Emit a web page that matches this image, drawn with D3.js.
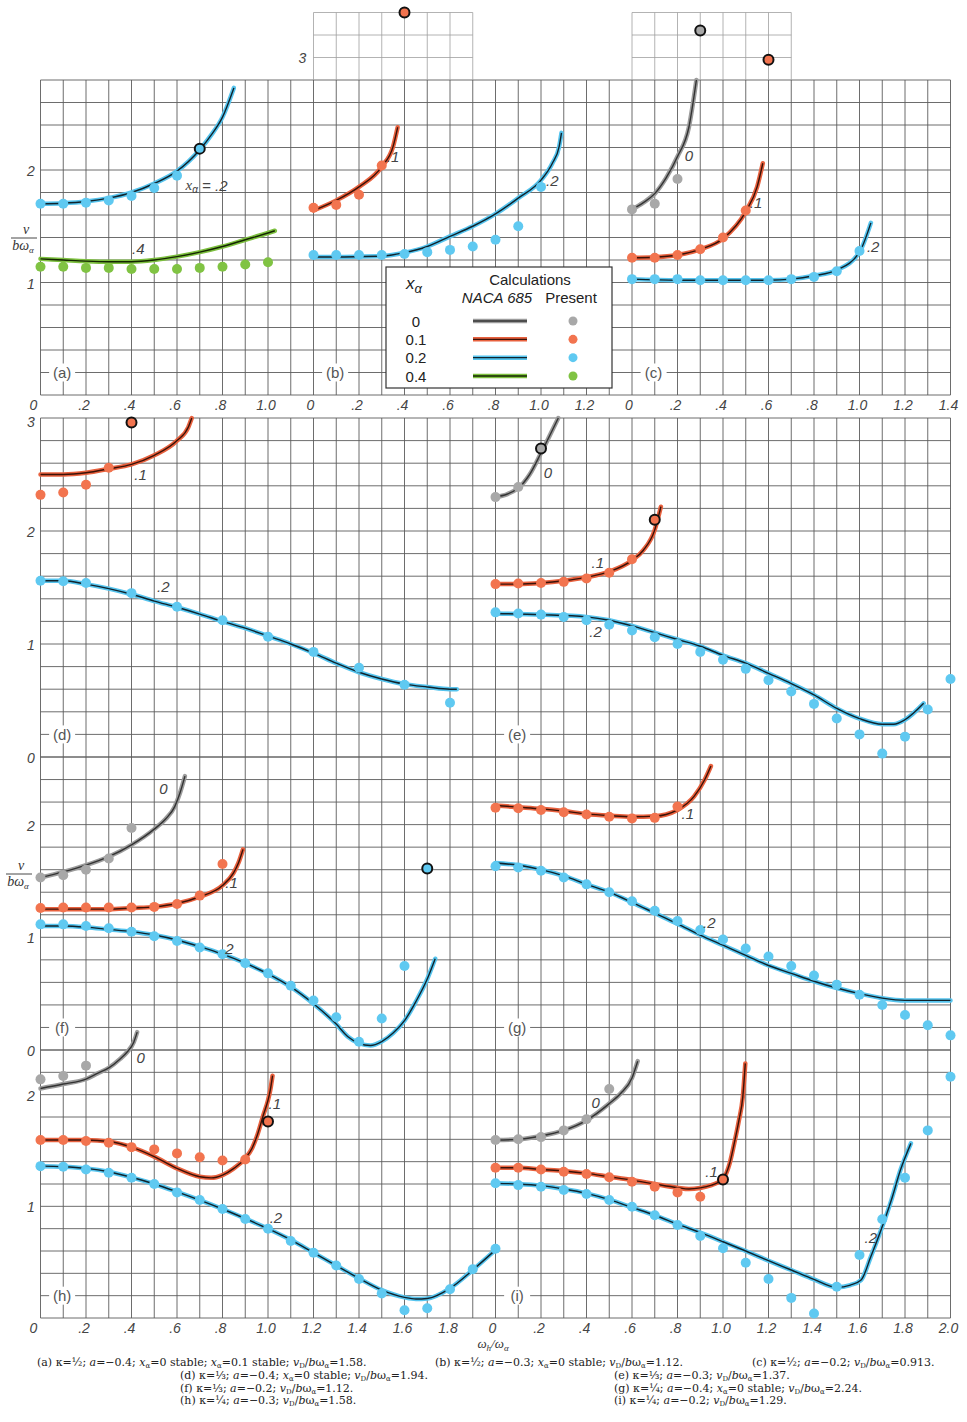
<!DOCTYPE html>
<html><head><meta charset="utf-8">
<script src="https://cdn.jsdelivr.net/npm/d3@7"></script>
<style>body{margin:0;background:#fff}</style>
</head><body><svg id="chart"></svg>
<script>
// ---- data: [omega_h/omega_a, v/(b omega_a)] ----
const A_CURVE_2 = [[0,1.70],[0.1,1.705],[0.2,1.72],[0.3,1.75],[0.4,1.80],[0.5,1.88],[0.6,1.99],[0.7,2.18],[0.75,2.31],[0.8,2.47],[0.85,2.73]];
const A_PTS_2 = [[0,1.70],[0.1,1.70],[0.2,1.71],[0.3,1.73],[0.4,1.77],[0.5,1.84],[0.6,1.95]];
const A_OPEN_2 = [[0.7,2.19]];
const A_CURVE_4 = [[0,1.21],[0.1,1.20],[0.2,1.19],[0.3,1.185],[0.4,1.185],[0.5,1.20],[0.6,1.23],[0.7,1.27],[0.8,1.32],[0.9,1.38],[1.0,1.44],[1.03,1.46]];
const A_PTS_4 = [[0,1.14],[0.1,1.14],[0.2,1.13],[0.3,1.13],[0.4,1.12],[0.5,1.12],[0.6,1.12],[0.7,1.13],[0.8,1.14],[0.9,1.16],[1.0,1.18]];

const B_CURVE_1 = [[0,1.64],[0.1,1.73],[0.2,1.85],[0.3,2.03],[0.35,2.21],[0.37,2.38]];
const B_PTS_1 = [[0,1.665],[0.1,1.69],[0.2,1.78],[0.3,2.04]];
const B_OPEN_1 = [[0.4,3.40]];
const B_CURVE_2 = [[0,1.227],[0.1,1.227],[0.2,1.23],[0.3,1.235],[0.4,1.265],[0.5,1.32],[0.6,1.41],[0.7,1.50],[0.8,1.61],[0.9,1.75],[1.0,1.91],[1.05,2.06],[1.08,2.21],[1.09,2.33]];
const B_PTS_2 = [[0,1.245],[0.1,1.245],[0.2,1.245],[0.3,1.245],[0.4,1.253],[0.5,1.27],[0.6,1.29],[0.7,1.32],[0.8,1.38],[0.9,1.50],[1.0,1.85]];

const C_CURVE_0 = [[0,1.65],[0.05,1.71],[0.1,1.79],[0.15,1.93],[0.2,2.12],[0.25,2.38],[0.283,2.8]];
const C_PTS_0 = [[0,1.65],[0.1,1.70],[0.2,1.92]];
const C_OPEN_0 = [[0.3,3.24]];
const C_CURVE_1 = [[0,1.22],[0.1,1.225],[0.2,1.245],[0.3,1.295],[0.4,1.39],[0.5,1.63],[0.55,1.85],[0.575,2.06]];
const C_PTS_1 = [[0,1.22],[0.1,1.22],[0.2,1.245],[0.3,1.295],[0.4,1.40],[0.5,1.64]];
const C_OPEN_1 = [[0.6,2.98]];
const C_CURVE_2 = [[0,1.03],[0.2,1.02],[0.4,1.02],[0.6,1.02],[0.7,1.03],[0.8,1.06],[0.9,1.11],[1.0,1.27],[1.05,1.53]];
const C_PTS_2 = [[0,1.03],[0.1,1.03],[0.2,1.03],[0.3,1.02],[0.4,1.02],[0.5,1.02],[0.6,1.02],[0.7,1.03],[0.8,1.05],[0.9,1.10],[1.0,1.28]];

const D_CURVE_1 = [[0,2.50],[0.1,2.50],[0.2,2.515],[0.3,2.55],[0.4,2.59],[0.5,2.67],[0.6,2.80],[0.65,2.92],[0.665,3.0]];
const D_PTS_1 = [[0,2.32],[0.1,2.34],[0.2,2.41],[0.3,2.56]];
const D_OPEN_1 = [[0.4,2.96]];
const D_CURVE_2 = [[0,1.56],[0.1,1.56],[0.2,1.53],[0.3,1.49],[0.4,1.44],[0.5,1.38],[0.6,1.325],[0.7,1.265],[0.8,1.20],[0.9,1.14],[1.0,1.07],[1.1,1.00],[1.2,0.92],[1.3,0.83],[1.4,0.75],[1.5,0.69],[1.6,0.645],[1.7,0.62],[1.8,0.60],[1.83,0.60]];
const D_PTS_2 = [[0,1.56],[0.1,1.555],[0.2,1.54],[0.4,1.45],[0.6,1.33],[0.8,1.21],[1.0,1.065],[1.2,0.93],[1.4,0.79],[1.6,0.64],[1.8,0.48]];

const E_CURVE_0 = [[0,2.30],[0.1,2.38],[0.15,2.50],[0.2,2.69],[0.276,3.0]];
const E_PTS_0 = [[0,2.30],[0.1,2.39]];
const E_OPEN_0 = [[0.2,2.73]];
const E_CURVE_1 = [[0,1.53],[0.1,1.53],[0.2,1.54],[0.3,1.56],[0.4,1.59],[0.5,1.64],[0.6,1.74],[0.65,1.83],[0.7,2.01],[0.727,2.215]];
const E_PTS_1 = [[0,1.53],[0.1,1.535],[0.2,1.54],[0.3,1.55],[0.4,1.58],[0.5,1.63],[0.6,1.75]];
const E_OPEN_1 = [[0.7,2.10]];
const E_CURVE_2 = [[0,1.27],[0.2,1.26],[0.4,1.24],[0.5,1.21],[0.6,1.16],[0.7,1.10],[0.8,1.04],[0.9,0.98],[1.0,0.90],[1.1,0.83],[1.2,0.74],[1.3,0.65],[1.4,0.55],[1.5,0.43],[1.6,0.34],[1.7,0.29],[1.75,0.29],[1.8,0.33],[1.882,0.475]];
const E_PTS_2 = [[0,1.28],[0.1,1.27],[0.2,1.26],[0.3,1.24],[0.4,1.21],[0.5,1.17],[0.6,1.12],[0.7,1.06],[0.8,1.00],[0.9,0.93],[1.0,0.86],[1.1,0.78],[1.2,0.68],[1.3,0.58],[1.4,0.47],[1.5,0.34],[1.6,0.20],[1.7,0.03],[1.8,0.18],[1.9,0.42],[2.0,0.69]];

const F_CURVE_0 = [[0,1.53],[0.1,1.58],[0.2,1.64],[0.3,1.715],[0.4,1.82],[0.5,1.96],[0.55,2.05],[0.59,2.16],[0.613,2.28],[0.635,2.43]];
const F_PTS_0 = [[0,1.53],[0.1,1.55],[0.2,1.60],[0.3,1.70],[0.4,1.97]];
const F_CURVE_1 = [[0,1.25],[0.2,1.25],[0.3,1.25],[0.4,1.26],[0.5,1.27],[0.6,1.30],[0.7,1.36],[0.8,1.46],[0.848,1.57],[0.87,1.66],[0.89,1.78]];
const F_PTS_1 = [[0,1.26],[0.1,1.265],[0.2,1.265],[0.3,1.265],[0.4,1.265],[0.5,1.27],[0.6,1.295],[0.7,1.37],[0.8,1.65]];
const F_CURVE_2 = [[0,1.10],[0.1,1.10],[0.2,1.09],[0.3,1.07],[0.4,1.05],[0.5,1.02],[0.6,0.976],[0.7,0.917],[0.8,0.85],[0.9,0.77],[1.0,0.675],[1.1,0.56],[1.2,0.41],[1.3,0.23],[1.35,0.12],[1.4,0.06],[1.45,0.04],[1.5,0.075],[1.55,0.15],[1.6,0.26],[1.65,0.43],[1.7,0.63],[1.735,0.81]];
const F_PTS_2 = [[0,1.115],[0.1,1.115],[0.2,1.10],[0.3,1.08],[0.4,1.05],[0.5,1.01],[0.6,0.967],[0.7,0.91],[0.8,0.85],[0.9,0.77],[1.0,0.68],[1.1,0.57],[1.2,0.44],[1.3,0.29],[1.4,0.074],[1.5,0.28],[1.6,0.745]];
const F_OPEN_2 = [[1.7,1.61]];

const G_CURVE_1 = [[0,2.17],[0.1,2.155],[0.2,2.14],[0.3,2.12],[0.4,2.095],[0.5,2.08],[0.6,2.07],[0.7,2.075],[0.75,2.09],[0.8,2.13],[0.873,2.25],[0.92,2.40],[0.947,2.52]];
const G_PTS_1 = [[0,2.15],[0.1,2.145],[0.2,2.13],[0.3,2.11],[0.4,2.09],[0.5,2.07],[0.6,2.055],[0.7,2.06],[0.8,2.16]];
const G_CURVE_2 = [[0,1.66],[0.1,1.64],[0.2,1.60],[0.3,1.545],[0.4,1.47],[0.5,1.40],[0.6,1.31],[0.7,1.215],[0.8,1.12],[0.9,1.02],[1.0,0.93],[1.1,0.84],[1.2,0.75],[1.3,0.68],[1.4,0.61],[1.5,0.55],[1.6,0.50],[1.7,0.46],[1.8,0.44],[1.9,0.44],[2.0,0.44]];
const G_PTS_2 = [[0,1.63],[0.1,1.62],[0.2,1.59],[0.3,1.53],[0.4,1.47],[0.5,1.40],[0.6,1.32],[0.7,1.235],[0.8,1.145],[0.9,1.065],[1.0,0.98],[1.1,0.90],[1.2,0.83],[1.3,0.745],[1.4,0.66],[1.5,0.58],[1.6,0.49],[1.7,0.40],[1.8,0.31],[1.9,0.22],[2.0,0.13]];

const H_CURVE_0 = [[0,2.055],[0.1,2.095],[0.2,2.14],[0.25,2.19],[0.3,2.24],[0.35,2.32],[0.38,2.38],[0.41,2.47],[0.425,2.56]];
const H_PTS_0 = [[0,2.137],[0.1,2.167],[0.2,2.26]];
const H_CURVE_1 = [[0,1.594],[0.1,1.594],[0.2,1.594],[0.3,1.58],[0.4,1.53],[0.5,1.445],[0.6,1.34],[0.7,1.265],[0.75,1.255],[0.8,1.28],[0.85,1.34],[0.9,1.43],[0.93,1.52],[0.95,1.62],[0.98,1.82],[1.0,1.95],[1.01,2.04],[1.02,2.17]];
const H_PTS_1 = [[0,1.594],[0.1,1.594],[0.2,1.585],[0.3,1.57],[0.4,1.53],[0.5,1.51],[0.6,1.474],[0.7,1.44],[0.8,1.41],[0.9,1.42]];
const H_OPEN_1 = [[1.0,1.76]];
const H_CURVE_2 = [[0,1.36],[0.1,1.355],[0.2,1.34],[0.3,1.31],[0.4,1.26],[0.5,1.20],[0.6,1.13],[0.7,1.056],[0.8,0.976],[0.9,0.89],[1.0,0.80],[1.1,0.70],[1.2,0.585],[1.3,0.47],[1.4,0.355],[1.5,0.25],[1.6,0.185],[1.65,0.17],[1.7,0.175],[1.8,0.266],[1.9,0.43],[2.0,0.61]];
const H_PTS_2 = [[0,1.36],[0.1,1.355],[0.2,1.33],[0.3,1.30],[0.4,1.256],[0.5,1.20],[0.6,1.125],[0.7,1.056],[0.8,0.976],[0.9,0.886],[1.0,0.80],[1.1,0.69],[1.2,0.585],[1.3,0.47],[1.4,0.35],[1.5,0.22],[1.6,0.07],[1.7,0.087],[1.8,0.257],[1.9,0.436],[2.0,0.62]];

const I_CURVE_0 = [[0,1.594],[0.1,1.60],[0.2,1.63],[0.3,1.68],[0.4,1.77],[0.5,1.92],[0.55,2.01],[0.6,2.15],[0.625,2.30]];
const I_PTS_0 = [[0,1.594],[0.1,1.60],[0.2,1.62],[0.3,1.68],[0.4,1.78],[0.5,2.05]];
const I_CURVE_1 = [[0,1.346],[0.1,1.345],[0.2,1.33],[0.3,1.316],[0.4,1.295],[0.5,1.265],[0.6,1.235],[0.7,1.20],[0.8,1.167],[0.85,1.155],[0.9,1.165],[0.95,1.19],[0.97,1.206],[1.0,1.245],[1.03,1.39],[1.05,1.57],[1.07,1.77],[1.087,1.98],[1.098,2.28]];
const I_PTS_1 = [[0,1.346],[0.1,1.345],[0.2,1.33],[0.3,1.31],[0.4,1.29],[0.5,1.26],[0.6,1.22],[0.7,1.175],[0.8,1.125],[0.9,1.086]];
const I_OPEN_1 = [[1.0,1.24]];
const I_CURVE_2 = [[0,1.206],[0.1,1.20],[0.2,1.185],[0.3,1.155],[0.4,1.116],[0.5,1.06],[0.6,0.99],[0.7,0.92],[0.8,0.84],[0.9,0.764],[1.0,0.683],[1.1,0.60],[1.2,0.513],[1.3,0.43],[1.4,0.346],[1.5,0.275],[1.56,0.295],[1.607,0.34],[1.65,0.55],[1.695,0.79],[1.74,1.056],[1.78,1.325],[1.826,1.564]];
const I_PTS_2 = [[0,1.206],[0.1,1.19],[0.2,1.175],[0.3,1.146],[0.4,1.11],[0.5,1.056],[0.6,0.997],[0.7,0.92],[0.8,0.833],[0.9,0.734],[1.0,0.624],[1.1,0.495],[1.2,0.35],[1.3,0.18],[1.4,0.04],[1.5,0.28],[1.6,0.564],[1.7,0.884],[1.8,1.256],[1.9,1.68],[2.0,2.16]];

// tick labels
const TICKS_A = [0, 0.2, 0.4, 0.6, 0.8, 1.0];
const TICKS_B = [0, 0.2, 0.4, 0.6, 0.8, 1.0, 1.2];
const TICKS_C = [0, 0.2, 0.4, 0.6, 0.8, 1.0, 1.2, 1.4];
const TICKS_H = [0, 0.2, 0.4, 0.6, 0.8, 1.0, 1.2, 1.4, 1.6, 1.8];
const TICKS_I = [0, 0.2, 0.4, 0.6, 0.8, 1.0, 1.2, 1.4, 1.6, 1.8, 2.0];
const tickFmt = v => v === 0 ? "0" : (v < 1 ? "." + Math.round(v * 10) : v.toFixed(1));

const LEGEND_KEYS = ["0", "0.1", "0.2", "0.4"];
const CAPTIONS = [
  [37, 1366, "(a)  κ=½; *a*=−0.4; *x*_α=0 stable; *x*_α=0.1 stable; *v*_D/*b*ω_α=1.58."],
  [435, 1366, "(b)  κ=½; *a*=−0.3; *x*_α=0 stable; *v*_D/*b*ω_α=1.12."],
  [752, 1366, "(c)  κ=½; *a*=−0.2; *v*_D/*b*ω_α=0.913."],
  [180, 1379, "(d)  κ=⅓; *a*=−0.4; *x*_α=0 stable; *v*_D/*b*ω_α=1.94."],
  [614, 1379, "(e)  κ=⅓; *a*=−0.3; *v*_D/*b*ω_α=1.37."],
  [180, 1391.5, "(f)  κ=⅓; *a*=−0.2; *v*_D/*b*ω_α=1.12."],
  [614, 1391.5, "(g)  κ=¼; *a*=−0.4; *x*_α=0 stable; *v*_D/*b*ω_α=2.24."],
  [180, 1404, "(h)  κ=¼; *a*=−0.3; *v*_D/*b*ω_α=1.58."],
  [614, 1404, "(i)  κ=¼; *a*=−0.2; *v*_D/*b*ω_α=1.29."]
];

const COLORS = {
  "0":   {halo: "#9c9c9c", core: "#333", dot: "#a8a8a8"},
  "0.1": {halo: "#e8613e", core: "#3a1208", dot: "#f2744f"},
  "0.2": {halo: "#56c4ee", core: "#10232c", dot: "#5fc9f1"},
  "0.4": {halo: "#7cbf3e", core: "#142600", dot: "#80c343"}
};

const W = 967, H = 1422;
const X0 = 40.5, XU = 227.5;
const ROWS = {
  1: {bottom: 395, top: 80, max: 2.8},
  2: {bottom: 757, top: 418, max: 3.0},
  3: {bottom: 1050, top: 757, max: 2.6},
  4: {bottom: 1318, top: 1050, max: 2.4}
};

const PANELS = [
  {id: "a", row: 1, start: 0, width: 1.2,
   series: [{k: "0.2", c: A_CURVE_2, p: A_PTS_2, o: A_OPEN_2}, {k: "0.4", c: A_CURVE_4, p: A_PTS_4}],
   labels: [[0.43, 1.30, ".4"]]},
  {id: "b", row: 1, start: 1.2, width: 1.4, ext: true,
   series: [{k: "0.1", c: B_CURVE_1, p: B_PTS_1, o: B_OPEN_1}, {k: "0.2", c: B_CURVE_2, p: B_PTS_2}],
   labels: [[0.35, 2.12, ".1"], [1.05, 1.91, ".2"]]},
  {id: "c", row: 1, start: 2.6, width: 1.4, ext: true,
   series: [{k: "0", c: C_CURVE_0, p: C_PTS_0, o: C_OPEN_0}, {k: "0.1", c: C_CURVE_1, p: C_PTS_1, o: C_OPEN_1}, {k: "0.2", c: C_CURVE_2, p: C_PTS_2}],
   labels: [[0.25, 2.13, "0"], [0.545, 1.71, ".1"], [1.06, 1.32, ".2"]]},
  {id: "d", row: 2, start: 0, width: 2.0,
   series: [{k: "0.1", c: D_CURVE_1, p: D_PTS_1, o: D_OPEN_1}, {k: "0.2", c: D_CURVE_2, p: D_PTS_2}],
   labels: [[0.44, 2.50, ".1"], [0.54, 1.51, ".2"]]},
  {id: "e", row: 2, start: 2.0, width: 2.0,
   series: [{k: "0", c: E_CURVE_0, p: E_PTS_0, o: E_OPEN_0}, {k: "0.1", c: E_CURVE_1, p: E_PTS_1, o: E_OPEN_1}, {k: "0.2", c: E_CURVE_2, p: E_PTS_2}],
   labels: [[0.23, 2.52, "0"], [0.45, 1.72, ".1"], [0.44, 1.11, ".2"]]},
  {id: "f", row: 3, start: 0, width: 2.0,
   series: [{k: "0", c: F_CURVE_0, p: F_PTS_0}, {k: "0.1", c: F_CURVE_1, p: F_PTS_1}, {k: "0.2", c: F_CURVE_2, p: F_PTS_2, o: F_OPEN_2}],
   labels: [[0.54, 2.32, "0"], [0.84, 1.49, ".1"], [0.83, 0.905, "2"]]},
  {id: "g", row: 3, start: 2.0, width: 2.0,
   series: [{k: "0.1", c: G_CURVE_1, p: G_PTS_1}, {k: "0.2", c: G_CURVE_2, p: G_PTS_2}],
   labels: [[0.845, 2.10, ".1"], [0.94, 1.135, ".2"]]},
  {id: "h", row: 4, start: 0, width: 2.0,
   series: [{k: "0", c: H_CURVE_0, p: H_PTS_0}, {k: "0.1", c: H_CURVE_1, p: H_PTS_1, o: H_OPEN_1}, {k: "0.2", c: H_CURVE_2, p: H_PTS_2}],
   labels: [[0.44, 2.33, "0"], [1.03, 1.92, ".1"], [1.035, 0.90, ".2"]]},
  {id: "i", row: 4, start: 2.0, width: 2.0,
   series: [{k: "0", c: I_CURVE_0, p: I_PTS_0}, {k: "0.1", c: I_CURVE_1, p: I_PTS_1, o: I_OPEN_1}, {k: "0.2", c: I_CURVE_2, p: I_PTS_2}],
   labels: [[0.44, 1.93, "0"], [0.95, 1.31, ".1"], [1.65, 0.72, ".2"]]}
];

const svg = d3.select("#chart").attr("width", W).attr("height", H);
svg.append("rect").attr("width", W).attr("height", H).attr("fill", "#fff");

const TICKFONT = "'Liberation Sans', Arial, sans-serif";
const yScale = r => d3.scaleLinear().domain([0, ROWS[r].max]).range([ROWS[r].bottom, ROWS[r].top]);
const xFull = d3.scaleLinear().domain([0, 4]).range([X0, X0 + 4 * XU]);

// grid
const grid = svg.append("g").attr("stroke", "#5c5c5c").attr("stroke-width", 0.9).attr("fill", "none");
Object.keys(ROWS).forEach(r => {
  const R = ROWS[r], y = yScale(r);
  d3.range(0, 40.5).forEach(k => {
    grid.append("line").attr("x1", xFull(k / 10)).attr("x2", xFull(k / 10))
      .attr("y1", R.top).attr("y2", R.bottom);
  });
  d3.range(0, Math.round(R.max / 0.2) + 1).forEach(k => {
    grid.append("line").attr("x1", xFull(0)).attr("x2", xFull(4))
      .attr("y1", y(k * 0.2)).attr("y2", y(k * 0.2));
  });
});
// light extension above panels b and c
const yr1 = yScale(1);
PANELS.filter(p => p.ext).forEach(p => {
  const g = svg.append("g").attr("stroke", "#a0a0a0").attr("stroke-width", 0.8);
  d3.range(0, 8).forEach(k => g.append("line")
    .attr("x1", xFull(p.start + k / 10)).attr("x2", xFull(p.start + k / 10))
    .attr("y1", yr1(3.4)).attr("y2", yr1(2.8)));
  [3.0, 3.2, 3.4].forEach(v => g.append("line")
    .attr("x1", xFull(p.start)).attr("x2", xFull(p.start + 0.7))
    .attr("y1", yr1(v)).attr("y2", yr1(v)));
});

const line = d3.line().curve(d3.curveMonotoneX);

PANELS.forEach(p => {
  const x = d3.scaleLinear().domain([0, p.width]).range([xFull(p.start), xFull(p.start + p.width)]);
  const y = yScale(p.row);
  const g = svg.append("g");
  const toPx = d => [x(d[0]), y(d[1])];

  // panel tag with gap in the grid
  const tx = x(0.095), ty = y(0.2);
  g.append("rect").attr("x", tx - 13).attr("y", ty - 9).attr("width", 26).attr("height", 18).attr("fill", "#fff");
  g.append("text").attr("x", tx).attr("y", ty).attr("text-anchor", "middle").attr("dominant-baseline", "central")
    .attr("font-family", TICKFONT).attr("font-size", 15).attr("fill", "#555").text("(" + p.id + ")");

  p.series.forEach(s => {
    const col = COLORS[s.k];
    g.append("path").attr("d", line(s.c.map(toPx))).attr("fill", "none")
      .attr("stroke", col.halo).attr("stroke-width", 4.5).attr("stroke-linecap", "round");
    g.append("path").attr("d", line(s.c.map(toPx))).attr("fill", "none")
      .attr("stroke", col.core).attr("stroke-width", 1.4);
  });
  p.series.forEach(s => {
    const col = COLORS[s.k];
    g.selectAll(null).data(s.p).join("circle")
      .attr("cx", d => x(d[0])).attr("cy", d => y(d[1])).attr("r", 5).attr("fill", col.dot);
    if (s.o) g.selectAll(null).data(s.o).join("circle")
      .attr("cx", d => x(d[0])).attr("cy", d => y(d[1])).attr("r", 5)
      .attr("fill", col.dot).attr("stroke", "#111").attr("stroke-width", 2);
  });
  p.labels.forEach(l => {
    g.append("text").attr("x", x(l[0])).attr("y", y(l[1])).attr("text-anchor", "middle")
      .attr("dominant-baseline", "central").attr("font-family", TICKFONT).attr("font-style", "italic")
      .attr("font-size", 15).attr("fill", "#444").text(l[2]);
  });
  p.x = x; p.y = y;
});

// "x_alpha = .2" label in panel a
{
  const pa = PANELS[0];
  const t = svg.append("text").attr("x", pa.x(0.73)).attr("y", pa.y(1.87)).attr("text-anchor", "middle")
    .attr("dominant-baseline", "central").attr("font-family", TICKFONT).attr("font-style", "italic")
    .attr("font-size", 15).attr("fill", "#444");
  t.append("tspan").attr("font-family", "'Liberation Serif', serif").text("x");
  t.append("tspan").attr("font-size", 10).attr("dy", 4).text("α");
  t.append("tspan").attr("dy", -4).text(" = .2");
}

// x tick labels
function xTicks(p, ticks, yPos) {
  ticks.forEach(v => {
    const shift = (v === 0 && p.start === 0) ? -7 : (v === 0 ? -3 : -2);
    svg.append("text").attr("x", p.x(v) + shift).attr("y", yPos).attr("text-anchor", "middle")
      .attr("dominant-baseline", "central").attr("font-family", TICKFONT).attr("font-style", "italic")
      .attr("font-size", 14).attr("fill", "#444").text(tickFmt(v));
  });
}
xTicks(PANELS[0], TICKS_A, 405);
xTicks(PANELS[1], TICKS_B, 405);
xTicks(PANELS[2], TICKS_C, 405);
xTicks(PANELS[7], TICKS_H, 1328);
xTicks(PANELS[8], TICKS_I, 1328);

// y tick labels
const Y_TICKS = {1: [1, 2], 2: [0, 1, 2, 3], 3: [0, 1, 2], 4: [1, 2]};
Object.keys(Y_TICKS).forEach(r => {
  const y = yScale(r);
  Y_TICKS[r].forEach(v => {
    const off = (r === "2" && v === 3) ? 4 : 1;
    svg.append("text").attr("x", 31).attr("y", y(v) + off).attr("text-anchor", "middle")
      .attr("dominant-baseline", "central").attr("font-family", TICKFONT).attr("font-style", "italic")
      .attr("font-size", 14).attr("fill", "#444").text(v);
  });
});
svg.append("text").attr("x", PANELS[1].x(0) - 11).attr("y", yr1(3.0)).attr("text-anchor", "middle")
  .attr("dominant-baseline", "central").attr("font-family", TICKFONT).attr("font-style", "italic")
  .attr("font-size", 14).attr("fill", "#444").text("3");

// y axis title v / b omega_alpha
function yTitle(cx, cy) {
  const g = svg.append("g").attr("font-family", "'Liberation Serif', serif").attr("font-style", "italic")
    .attr("fill", "#333").attr("text-anchor", "middle");
  g.append("text").attr("x", cx + 3).attr("y", cy - 4).attr("font-size", 14).text("v");
  g.append("line").attr("x1", cx - 12).attr("x2", cx + 14).attr("y1", cy).attr("y2", cy)
    .attr("stroke", "#333").attr("stroke-width", 0.9);
  const t = g.append("text").attr("x", cx).attr("y", cy + 12).attr("font-size", 14);
  t.append("tspan").text("bω");
  t.append("tspan").attr("font-size", 9).attr("dy", 3).text("α");
}
yTitle(23, 238);
yTitle(18, 874);

// x axis title
{
  const t = svg.append("text").attr("x", 493).attr("y", 1348).attr("text-anchor", "middle")
    .attr("font-family", "'Liberation Serif', serif").attr("font-style", "italic").attr("font-size", 13).attr("fill", "#333");
  t.append("tspan").text("ω");
  t.append("tspan").attr("font-size", 9).attr("dy", 3).text("h");
  t.append("tspan").attr("dy", -3).text("/ω");
  t.append("tspan").attr("font-size", 9).attr("dy", 3).text("α");
}

// legend
{
  const lx = 386, ly = 267, lw = 226, lh = 121;
  const g = svg.append("g").attr("font-family", "'Liberation Sans', Arial, sans-serif").attr("fill", "#222");
  g.append("rect").attr("x", lx).attr("y", ly).attr("width", lw).attr("height", lh)
    .attr("fill", "#fff").attr("stroke", "#333").attr("stroke-width", 1.2);
  const xa = g.append("text").attr("x", 414).attr("y", 289).attr("text-anchor", "middle")
    .attr("font-size", 17).attr("font-style", "italic");
  xa.append("tspan").text("x");
  xa.append("tspan").attr("font-size", 13).attr("dy", 4).text("α");
  g.append("text").attr("x", 530).attr("y", 285).attr("text-anchor", "middle").attr("font-size", 15).text("Calculations");
  g.append("text").attr("x", 497).attr("y", 303).attr("text-anchor", "middle").attr("font-size", 15)
    .attr("font-style", "italic").text("NACA 685");
  g.append("text").attr("x", 571).attr("y", 303).attr("text-anchor", "middle").attr("font-size", 15).text("Present");
  const rowY = d3.scalePoint().domain(LEGEND_KEYS).range([321, 376]);
  LEGEND_KEYS.forEach(k => {
    const yy = rowY(k), col = COLORS[k];
    g.append("text").attr("x", 416).attr("y", yy).attr("text-anchor", "middle")
      .attr("dominant-baseline", "central").attr("font-size", 15).text(k);
    g.append("line").attr("x1", 473).attr("x2", 527).attr("y1", yy).attr("y2", yy)
      .attr("stroke", col.halo).attr("stroke-width", 4.5);
    g.append("line").attr("x1", 473).attr("x2", 527).attr("y1", yy).attr("y2", yy)
      .attr("stroke", col.core).attr("stroke-width", 1.3);
    g.append("circle").attr("cx", 573).attr("cy", yy).attr("r", 4.5).attr("fill", col.dot);
  });
}

// captions with *italic* and _subscript
CAPTIONS.forEach(([cx, cy, s]) => {
  const t = svg.append("text").attr("x", cx).attr("y", cy)
    .attr("font-family", "'DejaVu Serif', 'Liberation Serif', serif").attr("font-size", 11).attr("fill", "#222");
  const re = /(\*[^*]+\*|_.)/g;
  let last = 0, m, sub = false;
  while ((m = re.exec(s)) !== null) {
    if (m.index > last) {
      t.append("tspan").attr("dy", sub ? -2 : 0).text(s.slice(last, m.index));
      sub = false;
    }
    if (m[0][0] === "*") {
      t.append("tspan").attr("dy", sub ? -2 : 0).attr("font-style", "italic").text(m[0].slice(1, -1));
      sub = false;
    } else {
      t.append("tspan").attr("font-size", 7).attr("dy", sub ? 0 : 2).text(m[0].slice(1));
      sub = true;
    }
    last = re.lastIndex;
  }
  if (last < s.length) t.append("tspan").attr("dy", sub ? -2 : 0).text(s.slice(last));
});
</script>
</body></html>
